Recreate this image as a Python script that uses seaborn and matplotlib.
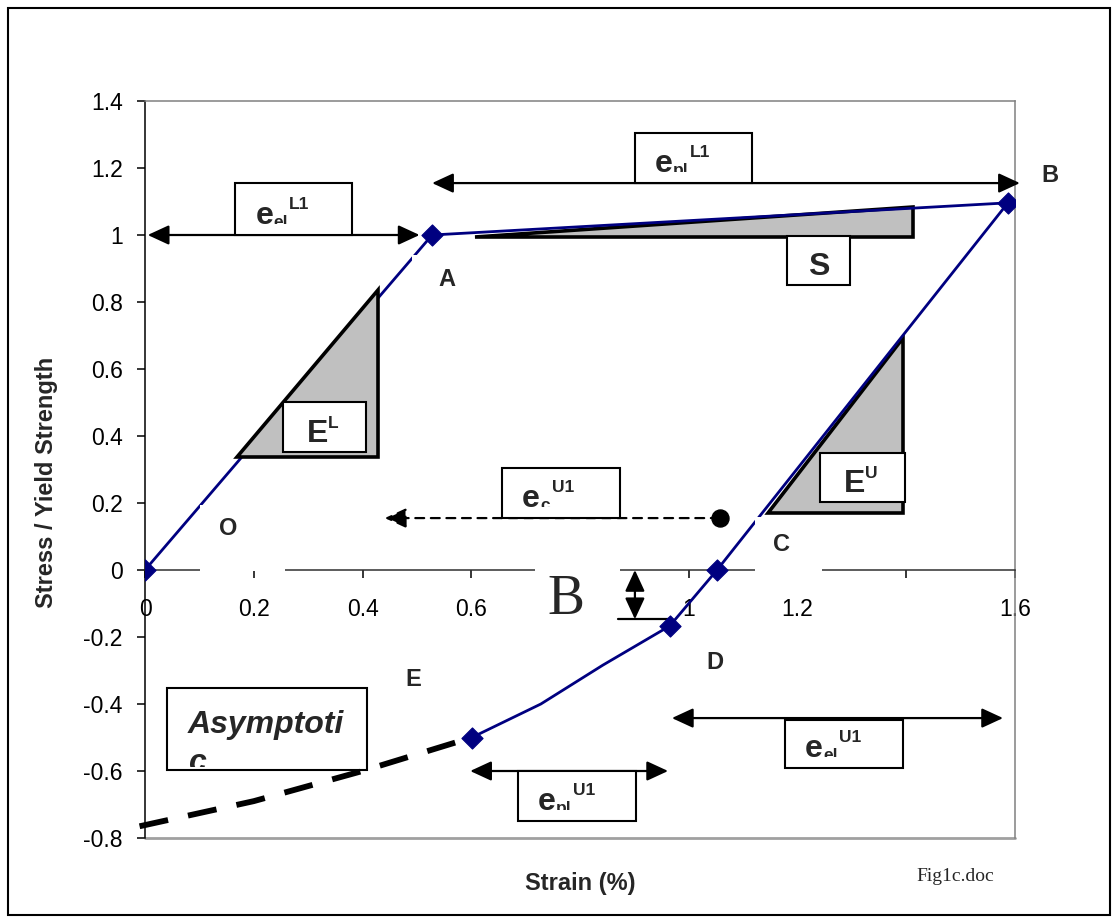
import matplotlib
matplotlib.use('Agg')
import matplotlib.pyplot as plt
import seaborn as sns
import pandas as pd
from matplotlib.patches import Rectangle, Polygon

# --- datos de la curva (O-A-B-C-D-E) ---
curve_x = [0, 0.528, 1.587, 1.052, 0.965, 0.842, 0.728, 0.601]
curve_y = [0, 1.0, 1.096, 0, -0.167, -0.284, -0.40, -0.50]
point_x = [0, 0.528, 1.587, 1.052, 0.965, 0.601]
point_y = [0, 1.0, 1.096, 0, -0.167, -0.50]
asym_x = [-0.01, 0.2, 0.4, 0.601]
asym_y = [-0.765, -0.69, -0.60, -0.50]

xticks = [0, 0.2, 0.4, 0.6, 0.8, 1.0, 1.2, 1.4, 1.6]
xtick_labels = ['0', '0.2', '0.4', '0.6', '', '1', '1.2', '', '1.6']
yticks = [-0.8, -0.6, -0.4, -0.2, 0, 0.2, 0.4, 0.6, 0.8, 1.0, 1.2, 1.4]
ytick_labels = ['-0.8', '-0.6', '-0.4', '-0.2', '0', '0.2', '0.4', '0.6', '0.8', '1', '1.2', '1.4']

# triangulos de pendiente
tri_EL = [(0.169, 0.337), (0.428, 0.337), (0.428, 0.836)]
tri_S = [(0.607, 0.994), (1.412, 0.994), (1.412, 1.084)]
tri_EU = [(1.145, 0.170), (1.394, 0.170), (1.394, 0.693)]

PX = 1 / 543.75   # un pixel en unidades de x
PY = 1 / 335.0    # un pixel en unidades de y

sns.set_style('white')
plt.rcParams['font.family'] = ['Liberation Sans', 'DejaVu Sans']

fig = plt.figure(figsize=(11.17, 9.22), dpi=100)
ax = fig.add_axes([145 / 1117, 84 / 922, 870 / 1117, 737 / 922])

df = pd.DataFrame({'x': curve_x, 'y': curve_y})
sns.lineplot(data=df, x='x', y='y', sort=False, estimator=None, color='#000080',
             lw=2.0, ax=ax, zorder=3)
sns.scatterplot(x=point_x, y=point_y, marker='D', s=115, color='#000080',
                edgecolor='#000080', ax=ax, zorder=6)
sns.lineplot(x=asym_x, y=asym_y, sort=False, estimator=None, color='black', lw=4.2,
             linestyle=(0, (5, 3.5)), ax=ax, zorder=5.5, clip_on=False)

# E^L encima de la curva, S y E^U debajo
for tri, z in [(tri_EL, 3.2), (tri_S, 2.8), (tri_EU, 2.8)]:
    ax.add_patch(Polygon(tri, closed=True, facecolor='#c0c0c0', edgecolor='black',
                         lw=2.6, zorder=z, joinstyle='miter'))

ax.set_xlim(0, 1.6)
ax.set_ylim(-0.8, 1.4)
ax.set_xticks(xticks)
ax.set_xticklabels(xtick_labels)
ax.set_yticks(yticks)
ax.set_yticklabels(ytick_labels)
ax.set_xlabel('')
ax.set_ylabel('')
ax.spines['bottom'].set_position(('data', 0))
ax.spines['bottom'].set_color('#303030')
ax.spines['left'].set_color('black')
for s in ['top', 'right']:
    ax.spines[s].set_color('#808080')
for s in ax.spines.values():
    s.set_linewidth(1.1)
ax.axhline(-0.8, color='#a0a0a0', lw=2.0, zorder=2.5, clip_on=False)
ax.tick_params(axis='x', direction='out', length=6, width=1.1, pad=14,
               labelsize=16.5, colors='black')
ax.tick_params(axis='y', direction='out', length=6, width=1.1, pad=10,
               labelsize=16.5, colors='black')
ax.xaxis.set_ticks_position('bottom')
ax.yaxis.set_ticks_position('left')

# cajas blancas sin borde (tapan el eje y la curva)
for (x0, y0, x1, y1) in [(0.101, -0.003, 0.257, 0.194), (0.491, 0.791, 0.616, 0.940),
                         (1.122, -0.045, 1.245, 0.158), (0.717, -0.179, 0.874, 0.004)]:
    ax.add_patch(Rectangle((x0, y0), x1 - x0, y1 - y0, facecolor='white',
                           edgecolor='none', zorder=3.5))

# flechas
def arrow(p0, p1, style='<|-|>', ls='-'):
    ax.annotate('', xy=p1, xytext=p0, zorder=4.5,
                arrowprops=dict(arrowstyle=style + ',head_length=0.65,head_width=0.3',
                                color='black', lw=1.6, ls=ls, shrinkA=0, shrinkB=0,
                                mutation_scale=20), annotation_clip=False)

arrow((0.005, 1.0), (0.505, 1.0))
arrow((0.528, 1.155), (1.609, 1.155))
arrow((1.057, 0.155), (0.441, 0.155), style='-|>', ls=(0, (4, 3)))
arrow((0.901, 0.0), (0.901, -0.147))
arrow((0.969, -0.442), (1.578, -0.442))
arrow((0.598, -0.6), (0.962, -0.6))
ax.plot([0.87, 0.965], [-0.147, -0.147], color='black', lw=1.6, zorder=4.5)
ax.scatter([1.057], [0.155], s=150, color='black', zorder=6)

# cajas con texto
def box(x0, y0, x1, y1):
    ax.add_patch(Rectangle((x0, y0), x1 - x0, y1 - y0, facecolor='white',
                           edgecolor='black', lw=1.5, zorder=5))

def clipped(t, x0, y0, x1, y1, cut):
    t.set_clip_on(True)
    t.set_clip_path(Rectangle((x0, y0 + cut * PY), x1 - x0, y1 - y0 - cut * PY,
                              transform=ax.transData))

e_boxes = [
    (0.166, 1.000, 0.381, 1.155, 'el', 'L1', 54),
    (0.901, 1.155, 1.116, 1.305, 'pl', 'L1', 55),
    (0.657, 0.155, 0.874, 0.305, 'c', 'U1', 50),
    (1.177, -0.591, 1.394, -0.448, 'el', 'U1', 54),
    (0.686, -0.749, 0.903, -0.600, 'pl', 'U1', 55),
]
for (x0, y0, x1, y1, sub, sup, sdx) in e_boxes:
    box(x0, y0, x1, y1)
    t = ax.text(x0 + 20 * PX, y0 + 11 * PY, 'e', fontsize=23, fontweight='bold',
                ha='left', va='baseline', zorder=6)
    clipped(t, x0, y0, x1, y1, 10)
    t = ax.text(x0 + 38 * PX, y0 + 8 * PY, sub, fontsize=12.5, fontweight='bold',
                ha='left', va='baseline', zorder=6)
    clipped(t, x0, y0, x1, y1, 11)
    ax.text(x0 + sdx * PX, y0 + 26 * PY, sup, fontsize=12.5, fontweight='bold',
            ha='left', va='baseline', zorder=6)

for (x0, y0, x1, y1, sup) in [(0.254, 0.352, 0.406, 0.502, 'L'),
                              (1.241, 0.203, 1.398, 0.349, 'U')]:
    box(x0, y0, x1, y1)
    ax.text(x0 + 24 * PX, y0 + 10 * PY, 'E', fontsize=23, fontweight='bold',
            ha='left', va='baseline', zorder=6)
    ax.text(x0 + 45 * PX, y0 + 24 * PY, sup, fontsize=12.5, fontweight='bold',
            ha='left', va='baseline', zorder=6)

box(1.181, 0.851, 1.297, 0.997)
ax.text(1.239, 0.851 + 10 * PY, 'S', fontsize=23, fontweight='bold',
        ha='center', va='baseline', zorder=6)

ax0, ay0, ax1, ay1 = 0.040, -0.597, 0.408, -0.352
box(ax0, ay0, ax1, ay1)
ax.text(ax0 + 21 * PX, ay0 + 37 * PY, 'Asymptoti', fontsize=23, fontweight='bold',
        fontstyle='italic', ha='left', va='baseline', zorder=6)
t = ax.text(ax0 + 21 * PX, ay0 - 1 * PY, 'c', fontsize=23, fontweight='bold',
            fontstyle='italic', ha='left', va='baseline', zorder=6)
clipped(t, ax0, ay0, ax1, ay1, 3)

# letras de los puntos
for (x, y, s) in [(0.555, 0.866, 'A'), (1.664, 1.179, 'B'), (1.171, 0.075, 'C'),
                  (1.048, -0.275, 'D'), (0.493, -0.328, 'E'), (0.153, 0.125, 'O')]:
    ax.text(x, y, s, fontsize=17, fontweight='bold', ha='center', va='center', zorder=6)

ax.text(0.775, -0.09, 'B', fontsize=40, family='Liberation Serif', ha='center',
        va='center', zorder=6)

fig.text(47 / 1117, 1 - 482 / 922, 'Stress / Yield Strength', rotation=90, fontsize=17,
         fontweight='bold', ha='center', va='center')
fig.text(580 / 1117, 1 - 883 / 922, 'Strain (%)', fontsize=17, fontweight='bold',
         ha='center', va='center')
fig.text(955 / 1117, 1 - 876 / 922, 'Fig1c.doc', fontsize=14, family='Liberation Serif',
         ha='center', va='center')

fig.patches.append(Rectangle((8 / 1117, 1 - 915 / 922), 1102 / 1117, 907 / 922,
                             transform=fig.transFigure, fill=False, edgecolor='black',
                             lw=1.5))

fig.savefig('out.png', dpi=100)
